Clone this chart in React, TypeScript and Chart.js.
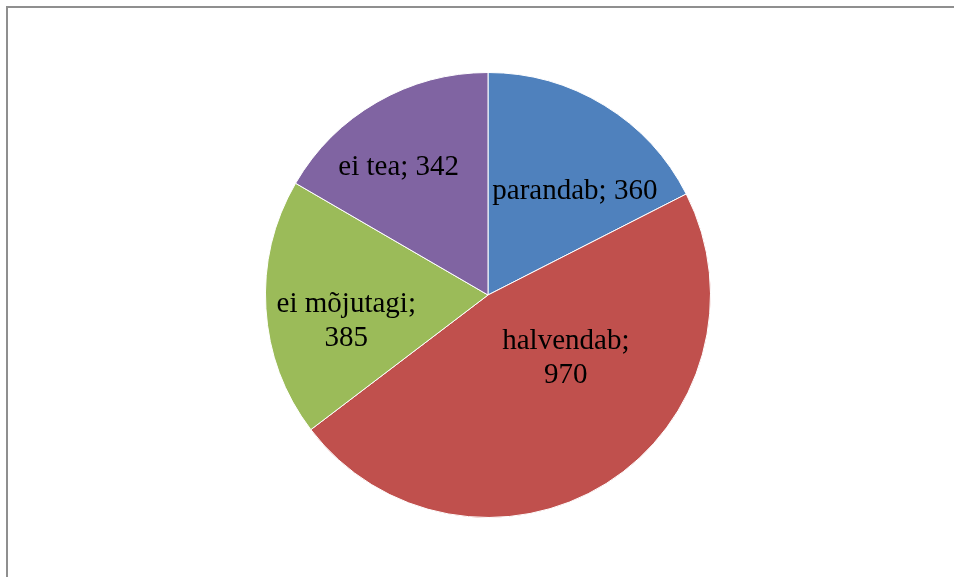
import React, { useEffect, useRef } from "react";
import { Chart, registerables } from "chart.js";

Chart.register(...registerables);

const categories = ["parandab", "halvendab", "ei mõjutagi", "ei tea"];
const values = [360, 970, 385, 342];
const colors = ["#4F81BD", "#C0504D", "#9BBB59", "#8064A2"];
// label lines per slice (how Excel wrapped them)
const labelLines = [
  ["parandab; 360"],
  ["halvendab;", "970"],
  ["ei mõjutagi;", "385"],
  ["ei tea; 342"],
];
// label placement: fraction of radius, angular shift (degrees) from slice middle
const labelRadius = [0.615, 0.444, 0.646, 0.708];
const labelShift = [7.9, -19.9, -6.05, -4.6];

const labelPlugin = {
  id: "sliceLabels",
  afterDatasetsDraw(chart: any) {
    const ctx = chart.ctx;
    const meta = chart.getDatasetMeta(0);
    ctx.save();
    ctx.fillStyle = "#000";
    ctx.font = '29px "Liberation Serif", "Times New Roman", serif';
    ctx.textAlign = "center";
    ctx.textBaseline = "alphabetic";
    const lineH = 33.5;
    meta.data.forEach((arc: any, i: number) => {
      const p = arc.getProps(["x", "y", "startAngle", "endAngle", "outerRadius"], true);
      const mid = (p.startAngle + p.endAngle) / 2 + (labelShift[i] * Math.PI) / 180;
      const r = p.outerRadius * labelRadius[i];
      const cx = p.x + Math.cos(mid) * r;
      const cy = p.y + Math.sin(mid) * r;
      const lines = labelLines[i];
      const firstBase = cy + 10 - ((lines.length - 1) * lineH) / 2;
      lines.forEach((t, k) => ctx.fillText(t, cx, firstBase + k * lineH));
    });
    ctx.restore();
  },
};

export default function App() {
  const ref = useRef<HTMLCanvasElement>(null);
  useEffect(() => {
    document.body.style.margin = "0";
    const chart = new Chart(ref.current as HTMLCanvasElement, {
      type: "pie",
      data: {
        labels: categories,
        datasets: [
          {
            data: values,
            backgroundColor: colors,
            borderColor: "#ffffff",
            borderWidth: 1,
          },
        ],
      },
      options: {
        responsive: false,
        animation: false,
        devicePixelRatio: 1,
        layout: { padding: { left: 265, right: 243, top: 72, bottom: 59 } },
        plugins: { legend: { display: false }, tooltip: { enabled: false } },
      },
      plugins: [labelPlugin],
    });
    return () => chart.destroy();
  }, []);
  return (
    <div style={{ position: "relative", width: 954, height: 577, overflow: "hidden", background: "#fff" }}>
      <div
        style={{
          position: "absolute",
          left: 6,
          top: 6,
          width: 1100,
          height: 800,
          borderTop: "2px solid #8f8f8f",
          borderLeft: "2px solid #8f8f8f",
          boxSizing: "border-box",
        }}
      />
      <canvas ref={ref} width={954} height={577} style={{ position: "absolute", left: 0, top: 0 }} />
    </div>
  );
}
